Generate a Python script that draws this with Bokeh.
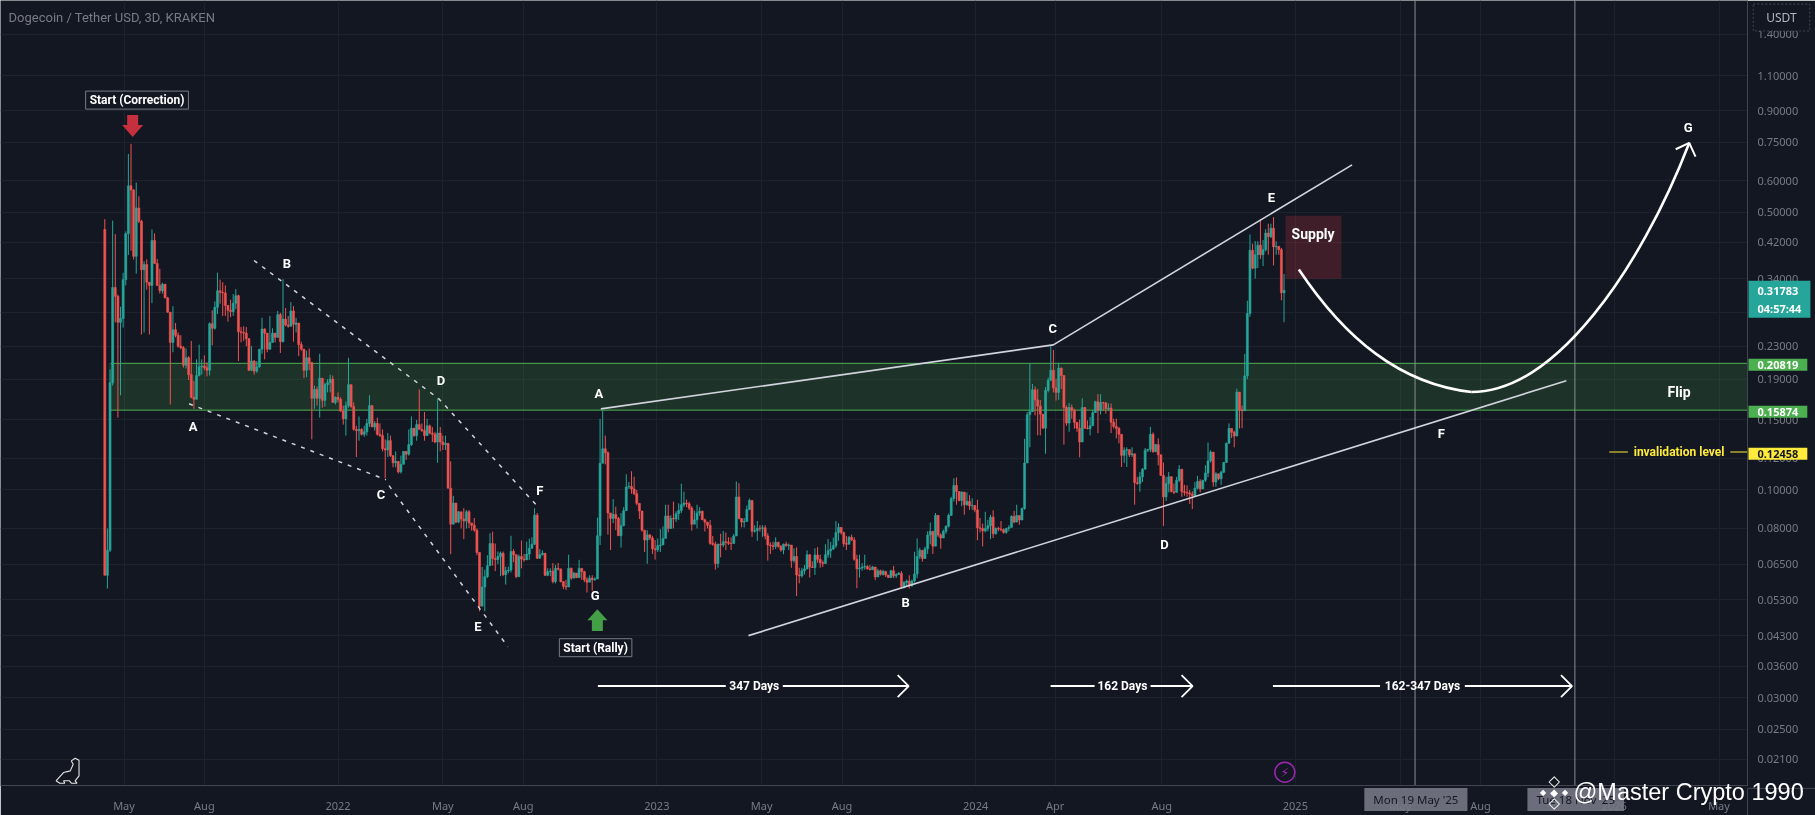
import numpy as np
import pandas as pd
from bokeh.plotting import figure
from bokeh.layouts import column
from bokeh.models import Range1d, FixedTicker, Label, ColumnDataSource, InlineStyleSheet
from bokeh.embed import file_html
from bokeh.resources import INLINE

# ---- candles (price, USDT) ----
first_open = 0.452
closes = [
.0610,.0705,.186,.323,.307,.264,.270,.338,.441,.582,
.568,.387,.512,.474,.358,.369,.333,.327,.424,.371,
.327,.317,.329,.304,.280,.235,.253,.245,.230,.228,
.206,.215,.195,.171,.169,.194,.204,.205,.203,.200,
.262,.255,.288,.317,.314,.313,.291,.283,.281,.295,
.308,.250,.249,.248,.240,.200,.211,.199,.204,.226,
.254,.248,.226,.235,.248,.242,.276,.236,.269,.260,
.258,.282,.261,.263,.232,.226,.200,.215,.209,.170,
.179,.170,.191,.168,.184,.186,.190,.166,.171,.169,
.158,.151,.163,.184,.162,.142,.141,.142,.138,.140,
.147,.163,.144,.147,.138,.137,.127,.126,.133,.122,
.117,.118,.111,.116,.125,.123,.130,.143,.137,.146,
.142,.141,.137,.145,.139,.138,.132,.139,.132,.130,
.131,.101,.0820,.0927,.0830,.0881,.0845,.0835,.0881,.0826,
.0815,.0792,.0696,.0510,.0570,.0605,.0645,.0733,.0672,.0668,
.0680,.0693,.0612,.0626,.0629,.0700,.0687,.0605,.0680,.0670,
.0667,.0690,.0713,.0730,.0864,.0673,.0687,.0693,.0610,.0623,
.0625,.0588,.0635,.0632,.0588,.0572,.0570,.0635,.0600,.0618,
.0602,.0635,.0623,.0594,.0586,.0600,.0594,.0597,.0767,.1167,
.1269,.1240,.0875,.0848,.0868,.0848,.0767,.0813,.0887,.1017,
.1020,.1006,.0978,.0925,.0885,.0792,.0748,.0771,.0757,.0711,
.0707,.0724,.0727,.0755,.0860,.0800,.0848,.0845,.0871,.0888,
.0918,.0927,.0923,.0900,.0820,.0841,.0875,.0884,.0841,.0830,
.0815,.0734,.0730,.0653,.0730,.0727,.0741,.0738,.0734,.0733,
.0766,.0960,.0847,.0830,.0833,.0892,.0941,.0787,.0790,.0801,
.0800,.0803,.0766,.0727,.0724,.0721,.0738,.0720,.0706,.0730,
.0724,.0727,.0664,.0680,.0611,.0608,.0626,.0633,.0687,.0640,
.0638,.0686,.0669,.0656,.0653,.0687,.0703,.0710,.0724,.0781,
.0805,.0781,.0733,.0730,.0760,.0748,.0669,.0633,.0636,.0640,
.0642,.0633,.0630,.0640,.0604,.0626,.0613,.0624,.0611,.0602,
.0626,.0608,.0613,.0617,.0572,.0585,.0590,.0575,.0590,.0615,
.0680,.0705,.0672,.0711,.0770,.0787,.0722,.0863,.0770,.0757,
.0787,.0810,.0863,.0951,.1026,.0991,.0941,.0988,.0918,.0936,
.0912,.0914,.0891,.0803,.0800,.0789,.0800,.0813,.0854,.0776,
.0800,.0797,.0794,.0782,.0800,.0805,.0858,.0830,.0862,.0840,
.0898,.1169,.1546,.1574,.1786,.1685,.1625,.1551,.1430,.1780,
.1887,.2000,.1806,.1759,.2026,.1940,.1612,.1473,.1612,.1585,
.1479,.1430,.1320,.1612,.1430,.1426,.1450,.1565,.1667,.1585,
.1660,.1655,.1600,.1607,.1480,.1445,.1428,.1380,.1222,.1258,
.1263,.1226,.1233,.1043,.1038,.1079,.1127,.1258,.1265,.1380,
.1248,.1300,.1226,.1088,.0961,.1038,.1079,.0990,.0986,.1058,
.1127,.0990,.0986,.0983,.0976,.0967,.1010,.1050,.1006,.1058,
.1103,.1183,.1245,.1047,.1098,.1067,.1108,.1172,.1310,.1428,
.1396,.1366,.1763,.1591,.1582,.1936,.2779,.4007,.3613,.3906,
.4128,.3906,.4022,.4426,.4337,.4553,.4088,.4100,.4022,.3133,
.31783]
highs = [
.48,.08,.201,.476,.44,.31,.289,.352,.447,.70,
.742,.571,.593,.548,.478,.376,.380,.333,.452,.442,
.381,.360,.332,.330,.306,.280,.290,.263,.249,.245,
.230,.227,.217,.237,.188,.213,.232,.213,.218,.209,
.264,.283,.298,.352,.338,.333,.327,.292,.301,.311,
.320,.310,.257,.258,.257,.241,.230,.212,.211,.226,
.271,.255,.248,.274,.255,.248,.282,.279,.339,.287,
.274,.297,.290,.271,.263,.236,.226,.224,.227,.210,
.183,.182,.220,.190,.186,.190,.195,.194,.172,.176,
.171,.163,.167,.215,.184,.166,.145,.153,.143,.145,
.151,.173,.163,.149,.152,.147,.142,.134,.139,.137,
.122,.125,.118,.122,.125,.124,.142,.153,.143,.150,
.179,.147,.157,.151,.146,.144,.140,.170,.144,.137,
.137,.130,.118,.0966,.0927,.0885,.0850,.090,.0890,.0890,
.0826,.0850,.0800,.0696,.0640,.063,.0685,.0778,.0785,.0733,
.0700,.0700,.0700,.0641,.0641,.0767,.0710,.0680,.0688,.0746,
.0690,.0741,.0754,.0760,.0899,.0875,.0710,.0705,.0690,.0635,
.0635,.0655,.0648,.0655,.0635,.0590,.0594,.0687,.0638,.0622,
.0618,.0667,.0635,.0626,.0603,.0610,.0610,.0603,.0852,.151,
.1584,.137,.125,.0875,.0948,.0907,.0855,.0875,.0905,.1095,
.1047,.1114,.1079,.100,.0925,.0885,.0792,.0792,.0773,.0767,
.0748,.0755,.0797,.081,.0918,.0918,.0864,.0934,.0884,.0925,
.1037,.0990,.0946,.0934,.0910,.0887,.0918,.0905,.0887,.0847,
.0830,.0840,.0766,.0741,.0733,.0776,.0788,.0781,.0760,.0760,
.0775,.1050,.1040,.0850,.0850,.0914,.0951,.0940,.0815,.0835,
.0815,.0815,.0815,.0778,.0738,.0741,.0760,.0741,.0727,.0733,
.0741,.0733,.0727,.0713,.0717,.0637,.0637,.0647,.0705,.0690,
.0661,.0713,.0718,.0687,.0664,.0730,.0752,.0740,.0759,.0835,
.0825,.0805,.0786,.0766,.0766,.0772,.0760,.0687,.0687,.0654,
.0687,.0647,.0647,.0644,.0633,.0633,.0630,.0630,.0621,.0611,
.0630,.0644,.0617,.0622,.0625,.059,.0595,.061,.0595,.0699,
.0755,.0715,.0705,.0720,.0787,.0828,.0787,.0875,.0863,.0778,
.0795,.0815,.0872,.0961,.107,.1075,.0991,.0991,.0941,.0986,
.0970,.0953,.0914,.0945,.0850,.0823,.0881,.0841,.0866,.0889,
.0805,.0808,.0835,.0800,.0803,.0815,.0863,.0886,.0918,.0863,
.0903,.1345,.157,.2082,.1847,.1822,.1795,.1683,.1551,.1815,
.1917,.2297,.2250,.1905,.2090,.2030,.1940,.1630,.1655,.1640,
.1600,.1479,.1503,.1700,.1612,.1495,.1526,.1585,.1675,.1742,
.174,.1665,.1665,.1650,.1650,.1510,.1510,.1440,.1380,.1280,
.1280,.1263,.1280,.1233,.1079,.1110,.1135,.1275,.1265,.1441,
.1395,.1305,.1348,.1222,.1172,.1079,.1110,.1083,.1038,.1079,
.1155,.1127,.1030,.1027,.1000,.0993,.1047,.1085,.1064,.1058,
.1153,.1316,.1258,.1245,.1108,.1098,.1118,.1176,.1316,.147,
.1428,.1410,.1797,.1763,.1630,.2197,.2992,.4391,.4164,.4225,
.4225,.4800,.4255,.4530,.4675,.4675,.4857,.4225,.4100,.4060,
.3492]
lows = [
.0610,.0565,.0698,.183,.264,.152,.173,.256,.327,.39,
.40,.380,.350,.469,.246,.249,.319,.246,.295,.371,
.326,.312,.312,.304,.279,.164,.222,.242,.228,.226,
.203,.202,.189,.170,.160,.169,.193,.195,.200,.193,
.194,.231,.253,.277,.294,.274,.274,.265,.272,.274,
.285,.211,.235,.237,.230,.199,.199,.195,.197,.203,
.220,.213,.222,.225,.242,.235,.242,.221,.235,.258,
.256,.258,.236,.249,.217,.224,.191,.192,.200,.134,
.160,.163,.152,.161,.162,.176,.176,.166,.164,.166,
.157,.146,.137,.161,.161,.141,.121,.133,.137,.136,
.137,.144,.144,.141,.137,.136,.125,.107,.121,.121,
.114,.114,.110,.110,.116,.119,.122,.129,.136,.133,
.142,.140,.133,.137,.138,.132,.131,.117,.125,.126,
.126,.101,.0689,.0820,.0825,.0825,.0800,.0752,.0800,.0802,
.0790,.0785,.0685,.0495,.0548,.0495,.0600,.0645,.0645,.0625,
.0650,.0607,.0607,.0578,.0617,.0620,.0658,.0600,.0622,.0635,
.0660,.0670,.0667,.0713,.0727,.0670,.0673,.0684,.0607,.0607,
.0607,.0582,.0582,.0627,.0585,.0563,.0560,.0570,.0594,.0600,
.0600,.0600,.0594,.0586,.0552,.0586,.0558,.0591,.0597,.0727,
.1167,.1160,.0772,.0706,.0825,.0792,.0767,.0716,.0810,.0887,
.1006,.0978,.0970,.0915,.0845,.0785,.0698,.0652,.0748,.0690,
.0668,.0698,.0698,.0729,.0755,.0782,.0800,.0800,.0830,.0840,
.0875,.0905,.0905,.0890,.0790,.0820,.0800,.0860,.0841,.0786,
.0800,.0728,.0724,.0630,.0637,.0677,.0718,.0706,.0727,.0706,
.0733,.0766,.0844,.0805,.0805,.0833,.0892,.0762,.0781,.0745,
.0786,.0762,.0751,.0664,.0690,.0706,.0710,.0716,.0699,.0689,
.0720,.0706,.0637,.0656,.0541,.0582,.0602,.0613,.0631,.0602,
.0636,.0611,.0656,.0637,.0640,.0653,.0675,.0675,.0706,.0715,
.0745,.0772,.0720,.0706,.0733,.0745,.0664,.0566,.0602,.0626,
.0630,.0630,.0628,.0633,.0593,.0604,.0609,.0609,.0604,.0600,
.0600,.0600,.0600,.0611,.0565,.0565,.057,.0565,.057,.0585,
.0600,.0670,.0660,.0672,.0690,.0730,.0690,.0738,.0762,.0711,
.0765,.0776,.0805,.0860,.0936,.0918,.0936,.0910,.0866,.0912,
.0891,.0891,.0879,.0747,.0782,.0721,.0782,.0787,.0752,.0757,
.0772,.0787,.0787,.0776,.0776,.0787,.0805,.0825,.0833,.0817,
.0840,.0891,.1180,.1280,.157,.1540,.1372,.1372,.1426,.1233,
.1759,.1887,.1759,.1678,.1685,.1794,.1300,.1450,.1400,.1510,
.1426,.1400,.1208,.1320,.1426,.1420,.1372,.1450,.1565,.1389,
.1548,.158,.1555,.1580,.1390,.1428,.1347,.1310,.1142,.1170,
.1142,.1210,.1210,.0918,.1030,.0990,.1047,.1127,.1245,.1245,
.1240,.1245,.1153,.1085,.0812,.0938,.0986,.0986,.0976,.0986,
.1047,.0961,.0967,.0961,.0922,.0895,.0961,.1003,.0986,.1006,
.1047,.1077,.1172,.1019,.1019,.1058,.1030,.1103,.1172,.1310,
.1350,.1280,.1366,.1428,.1430,.1582,.1900,.2726,.3590,.3400,
.3613,.3810,.3657,.3980,.3906,.4300,.3671,.3906,.3906,.2999,
.2641]
first_bar_day = -267   # days from 1 Jan 2022 (3-day bars)

# ---- axes ----
price_ticks = [1.4,1.1,.9,.75,.6,.5,.42,.34,.28,.23,.19,.15,.12,.10,.08,.065,.053,.043,.036,.03,.025,.021]
time_dates = ["2021-05-01","2021-08-01","2022-01-01","2022-05-01","2022-08-01","2023-01-01","2023-05-01",
              "2023-08-01","2024-01-01","2024-04-01","2024-08-01","2025-01-01","2025-05-01","2025-08-01",
              "2026-01-01","2026-05-01"]
time_labels = ["May","Aug","2022","May","Aug","2023","May","Aug","2024","Apr","Aug","2025","May","Aug","2026","May"]

BG, GRID, AXT, WHITE = "#131722", "#1e222d", "#787b86", "#ffffff"
UP, DOWN = "#26a69a", "#ef5350"
LINE = "#d1d4dc"
AXL = "#434651"

origin = pd.Timestamp("2022-01-01")
tick_days = [int((pd.Timestamp(d) - origin).days) for d in time_dates]

pin = InlineStyleSheet(css=":host{position:fixed !important;left:0 !important;top:0 !important;}")

p = figure(width=1815, height=815, output_backend="svg", toolbar_location=None,
           y_axis_type="log", y_axis_location="right",
           x_range=Range1d(-386.4, 1613.6), y_range=Range1d(0.01805, 1.7029),
           min_border_left=0, min_border_top=0, min_border_right=68, min_border_bottom=27,
           background_fill_color=BG, border_fill_color=BG, outline_line_color=None)
p.stylesheets = [pin]
p.frame_align = False

xa, ya = p.xaxis[0], p.yaxis[0]
xa.ticker = FixedTicker(ticks=tick_days)
xa.major_label_overrides = {d: t for d, t in zip(tick_days, time_labels)}
ya.ticker = FixedTicker(ticks=price_ticks)
ya.major_label_overrides = {v: f"{v:.5f}" for v in price_ticks}
for a in (xa, ya):
    a.major_tick_line_color = None
    a.minor_tick_line_color = None
    a.axis_line_color = AXL
    a.major_label_text_color = AXT
    a.major_label_text_font = "Noto Sans"
    a.major_label_text_font_size = "11px"
xa.major_label_standoff = 6
ya.major_label_standoff = 4
p.xgrid[0].ticker = FixedTicker(ticks=tick_days)
p.ygrid[0].ticker = FixedTicker(ticks=price_ticks)
p.xgrid.grid_line_color = GRID
p.ygrid.grid_line_color = GRID

# flip zone and supply zone
p.quad(left=-262.6, right=1613.6, bottom=0.15874, top=0.20819, fill_color="#4caf50", fill_alpha=0.18, line_color=None)
p.segment(x0=[-260.5, -260.5], x1=[1613.6, 1613.6], y0=[.20819, .15874], y1=[.20819, .15874], line_color="#4caf50", line_width=1)
p.quad(left=1084.7, right=1148.8, bottom=0.3398, top=0.4897, fill_color="#f23645", fill_alpha=0.2, line_color=None)

# date markers
p.segment(x0=[1233, 1416], x1=[1233, 1416], y0=[.01805]*2, y1=[1.7029]*2, line_color="#9598a1", line_width=0.9)

# candles
c = np.array(closes)
o = np.r_[first_open, c[:-1]]
h = np.maximum.reduce([np.array(highs), o, c])
l = np.minimum.reduce([np.array(lows), o, c])
days = first_bar_day + 3 * np.arange(len(c))
col = np.where(c >= o, UP, DOWN)
src = ColumnDataSource(dict(x=days, o=o, c=c, h=h, l=l, col=col))
p.segment(x0="x", x1="x", y0="l", y1="h", line_color="col", line_width=1, source=src)
p.vbar(x="x", width=2.3, bottom="o", top="c", fill_color="col", line_color="col", line_width=0.6, source=src)

# dashed channel
dash_xs = [[-96.1, 115.6, 227.7], [-170.5, 54.9], [58.4, 194.5]]
dash_ys = [[.3777, .1694, .0913], [.1647, .1061], [.1025, .0403]]
p.multi_line(dash_xs, dash_ys, line_color=LINE, line_width=1.5, line_dash="4 6")

# solid trend lines
trend_xs = [[300.9, 818.9, 1160.9], [469.9, 1406.2]]
trend_ys = [[.1599, .2317, .6573], [.0430, .1882]]
p.multi_line(trend_xs, trend_ys, line_color=LINE, line_width=1.6)

# projected curve with arrow head
p.bezier(x0=[1100, 1297.5], y0=[.3586, .1763], x1=[1297.5, 1546.9], y1=[.1763, .7463],
         cx0=[1153.3, 1393.6], cy0=[.2394, .1763], cx1=[1216.2, 1490.8], cy1=[.1847, .3586],
         line_color=WHITE, line_width=2.6)
p.line([1531.4, 1546.9, 1554.1], [.7194, .7463, .6895], line_color=WHITE, line_width=2)

# invalidation tick lines
p.segment(x0=[1455.4, 1593.9], x1=[1476.6, 1613.6], y0=[.12458]*2, y1=[.12458]*2, line_color="#ffeb3b", line_width=1.2)

# duration arrows
span_price = .0321
span_xs = [[297.5, 443.9], [509.2, 653.3], [815.8, 866.1], [930.2, 978.3], [1070.3, 1192.9], [1290.0, 1412.7]]
p.multi_line(span_xs, [[span_price]*2]*6, line_color=WHITE, line_width=2)
head_xs = [[640.7, 653.3, 640.7], [965.7, 978.3, 965.7], [1400.1, 1412.7, 1400.1]]
head_ys = [[span_price*1.0655, span_price, span_price/1.0655]]*3
p.multi_line(head_xs, head_ys, line_color=WHITE, line_width=1.8)

# block arrows
p.patch([-241.4,-228.8,-228.8,-223.1,-235.1,-247.1,-241.4], [.8771,.8771,.8279,.8279,.7725,.8279,.8279], fill_color="#c62f3e", line_color=None)
p.patch([290.6,303.2,303.2,308.4,296.9,285.5,290.6], [.0442,.0442,.0470,.0470,.0501,.0470,.0470], fill_color="#43a047", line_color=None)

# small icons (page-anchored decorations)
def dx(px): return (px - 337.5) / 0.8735
def dy(py): return 0.1 * np.exp((491.3 - py) / 173.3)
dino_px = [55.5,63,69.7,72.7,70.8,74.6,78.5,78.5,74.6,76.5,70.8,68.9,63,64.3,59.3,55.5]
dino_py = [783.3,775,773.3,766.7,763.3,760.7,762.7,778.3,783.3,785.7,785.7,783.3,783.3,785.7,785.7,783.3]
p.line([dx(v) for v in dino_px], [dy(v) for v in dino_py], line_color="#e6e6e6", line_width=1.1)
p.scatter([dx(1284.3)], [dy(774.7)], size=20, marker="circle", fill_color=None, line_color="#9c27b0", line_width=1.5)

def lab(fig, text, x, y, color=WHITE, size="13px", style="bold", font="Roboto", align="center", **kw):
    fig.add_layout(Label(x=x, y=y, text=text, text_color=color, text_font=font, text_font_size=size,
                         text_font_style=style, text_align=align, text_baseline="middle", **kw))

lab(p, "\u26a1", dx(1284.3), dy(774.7), color="#9c27b0", size="13px", style="normal", font="DejaVu Sans")

wave_text = ["A","B","C","D","E","F","G","A","B","C","D","E","F","G"]
wave_days = [-165.9,-58.4,49.2,117.8,160.2,231.1,294.4,298.6,649.9,818.1,946.2,1068.6,1263.2,1545.8]
wave_prices = [.1441,.3712,.0973,.189,.0454,.0996,.0543,.1753,.0522,.2551,.0729,.5433,.1384,.8184]
for t, x, y in zip(wave_text, wave_days, wave_prices):
    lab(p, t, x, y)

lab(p, "Supply", 1116.2, .4413, size="14px")
lab(p, "Flip", 1535.3, .1763, size="14px")
lab(p, "invalidation level", 1535.3, .12458, color="#ffeb3b", size="12px")
lab(p, "347 Days", 476.5, span_price, size="12px")
lab(p, "162 Days", 898, span_price, size="12px")
lab(p, "162-347 Days", 1241.5, span_price, size="12px")
box = dict(background_fill_color=BG, border_line_color="#787b86", border_line_width=1, padding=(4, 2))
lab(p, "Start (Correction)", -230.1, .9564, size="12px", **box)
lab(p, "Start (Rally)", 294.9, .0401, size="12px", **box)
lab(p, "Dogecoin / Tether USD, 3D, KRAKEN", dx(8), dy(16.7), color=AXT, size="13px", style="normal", align="left")

# transparent full-page layer, same scales, for everything that sits on the axes
ov = figure(width=1815, height=815, output_backend="svg", toolbar_location=None,
            y_axis_type="log", x_axis_location=None, y_axis_location=None,
            x_range=Range1d(-386.4, 1691.5), y_range=Range1d(0.01544, 1.7029),
            min_border_left=0, min_border_top=0, min_border_right=0, min_border_bottom=0,
            background_fill_color=None, border_fill_color=None, outline_line_color=None)
ov.grid.visible = False
ov.stylesheets = [pin]
ov.frame_align = False

ov.segment(x0=[1613.6, 1613.6], x1=[1691.5, 1613.6], y0=[.01805, .01805], y1=[.01805, .01544], line_color=AXL, line_width=1)

tag_x = dx(1748)
tag = dict(size="11px", font="Noto Sans", align="left", padding=(9, 2))
lab(ov, "0.31783\n04:57:44", tag_x, .31783*0.955, background_fill_color="#26a69a", **tag)
lab(ov, "0.20819", tag_x, .20819, background_fill_color="#4caf50", **tag)
lab(ov, "0.15874", tag_x, .15874, background_fill_color="#4caf50", **tag)
lab(ov, "0.12458", tag_x, .12458, color="#131722", background_fill_color="#ffeb3b", **tag)
lab(ov, "USDT", dx(1781), dy(17), color="#b2b5be", size="12px", style="normal", font="Noto Sans",
    background_fill_color=BG, border_line_color="#434651", border_line_dash="2 2", padding=(13, 5))

stag = dict(color="#131722", size="11.5px", style="normal", font="Noto Sans",
            background_fill_color="#787b86", background_fill_alpha=0.88, padding=(9, 4))
lab(ov, "Mon 19 May '25", 1234, dy(799), **stag)
lab(ov, "Tue 18 Nov '25", 1417, dy(799), **stag)

for t, px, py, sz in [("\u25c6",1553.7,792,"10px"),("\u25c6",1542.7,792,"8px"),("\u25c6",1564.7,792,"8px"),("\u25c7",1553.7,781,"15px"),("\u25c7",1553.7,803,"15px")]:
    lab(ov, t, dx(px), dy(py), size=sz, style="normal", font="DejaVu Sans")
lab(ov, "@Master Crypto 1990", dx(1573), dy(792), size="23.5px", style="normal", font="Liberation Sans", align="left")

page = column(p, ov)
open("out.html", "w").write(file_html(page, INLINE))
